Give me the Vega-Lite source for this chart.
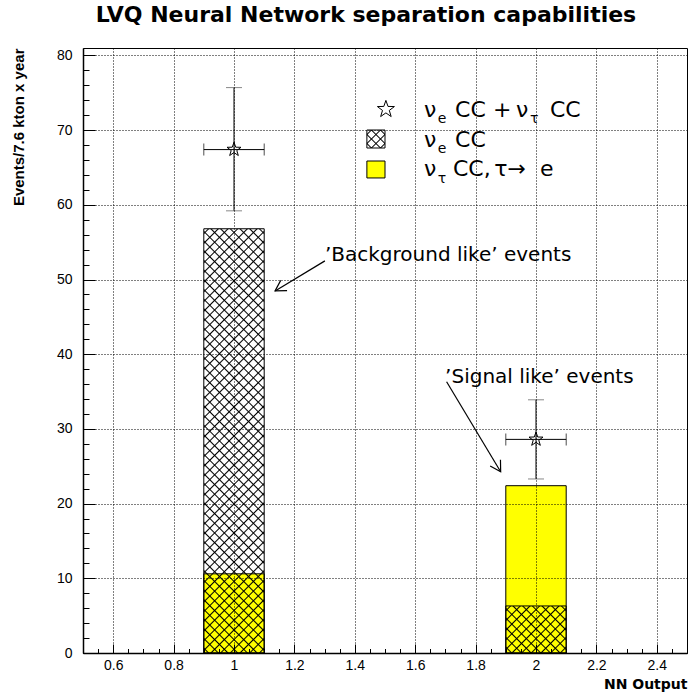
{
"$schema":"https://vega.github.io/schema/vega-lite/v6.json",
"width":604,"height":605,
"autosize":{"type":"none"},
"padding":{"left":83,"top":48,"right":1,"bottom":42},
"background":"white",
"title":{"text":"LVQ Neural Network separation capabilities","font":"DejaVu Sans","fontSize":22,"fontWeight":"bold","color":"#000","anchor":"middle","frame":"group","dx":-19,"offset":4,"baseline":"alphabetic"},
"datasets":{
"bars":[{"nn":1,"x0":0.9,"x1":1.1,"nue":56.8,"nutau":10.6},{"nn":2,"x0":1.9,"x1":2.1,"nue":6.3,"nutau":22.4}],
"points":[{"nn":1,"x0":0.9,"x1":1.1,"total":67.4,"lo":59.2,"hi":75.7},{"nn":2,"x0":1.9,"x1":2.1,"total":28.6,"lo":23.3,"hi":33.9}],
"notes":[{"text":"’Background like’ events","x":1.301,"y":52.5},{"text":"’Signal like’ events","x":1.699,"y":36.15}],
"arrows":[{"id":"bg","x":1.301,"y":52.5,"x2":1.136,"y2":48.47},{"id":"sig","x":1.704,"y":36.32,"x2":1.883,"y2":24.27}],
"legend_text":[{"t":"ν","x":1.629,"y":71.8},{"t":"CC","x":1.732,"y":71.8},{"t":"+","x":1.858,"y":71.8},{"t":"ν","x":1.934,"y":71.8},{"t":"CC","x":2.046,"y":71.8},{"t":"ν","x":1.629,"y":67.79},{"t":"CC","x":1.732,"y":67.79},{"t":"ν","x":1.629,"y":63.86},{"t":"CC,","x":1.725,"y":63.86},{"t":"τ→","x":1.862,"y":63.86},{"t":"e","x":2.013,"y":63.86}],
"legend_sub":[{"t":"e","x":1.675,"y":70.92},{"t":"τ","x":1.98,"y":70.92},{"t":"e","x":1.675,"y":66.9},{"t":"τ","x":1.675,"y":62.9}],
"legend_marker":[{"x":1.503,"y":72.79}],
"legend_boxes":[{"k":"nue","x0":1.44,"x1":1.5,"y0":67.61,"y1":70.02},{"k":"nutau","x0":1.44,"x1":1.5,"y0":63.6,"y1":65.87}]
},
"resolve":{"axis":{"x":"independent","y":"independent"}},
"layer":[
{"data":{"name":"bars"},"mark":{"type":"rect","fill":"#ffff00","stroke":"#000","strokeWidth":1},
"encoding":{
"x":{"field":"x0","type":"quantitative","scale":{"domain":[0.5,2.5],"nice":false,"zero":false},
"axis":{"orient":"bottom","values":[0.6,0.8,1,1.2,1.4,1.6,1.8,2,2.2,2.4],"format":"~g","grid":true,"gridDash":[1,2],"gridColor":"#000","gridWidth":1,"ticks":false,"domain":true,"domainWidth":1.5,"domainColor":"#000","labelFont":"Liberation Sans","labelFontSize":14,"labelColor":"#000","labelPadding":5,"labelFlush":false,"labelOverlap":false,"title":"NN Output","titleFont":"DejaVu Sans","titleFontSize":14,"titleFontWeight":"bold","titleColor":"#000","titleAnchor":"end","titlePadding":5,"zindex":1}},
"x2":{"field":"x1"},
"y":{"field":"nutau","type":"quantitative","scale":{"domain":[0,81],"nice":false,"zero":true},
"axis":{"orient":"left","values":[0,10,20,30,40,50,60,70,80],"format":"d","grid":true,"gridDash":[1,2],"gridColor":"#000","gridWidth":1,"ticks":false,"domain":true,"domainWidth":1.5,"domainColor":"#000","labelFont":"Liberation Sans","labelFontSize":14,"labelColor":"#000","labelPadding":11,"labelFlush":false,"labelOverlap":false,"title":"Events/7.6 kton x year","titleFont":"Liberation Sans","titleFontSize":15,"titleFontWeight":"bold","titleColor":"#000","titleAnchor":"end","titlePadding":30,"zindex":1}},
"y2":{"datum":0}}},
{"data":{"name":"bars"},"transform":[{"filter":"datum.nn==1"}],
"mark":{"type":"rect","stroke":"#000","strokeWidth":1,"fill":{"gradient":"linear","x1":0,"y1":0,"x2":0.1594,"y2":1.1197,"stops":[
{"offset":0.007,"color":"transparent"},{"offset":0.01,"color":"#000"},{"offset":0.013,"color":"transparent"},
{"offset":0.027,"color":"transparent"},{"offset":0.03,"color":"#000"},{"offset":0.033,"color":"transparent"},
{"offset":0.047,"color":"transparent"},{"offset":0.05,"color":"#000"},{"offset":0.053,"color":"transparent"},
{"offset":0.067,"color":"transparent"},{"offset":0.07,"color":"#000"},{"offset":0.073,"color":"transparent"},
{"offset":0.087,"color":"transparent"},{"offset":0.09,"color":"#000"},{"offset":0.093,"color":"transparent"},
{"offset":0.107,"color":"transparent"},{"offset":0.11,"color":"#000"},{"offset":0.113,"color":"transparent"},
{"offset":0.127,"color":"transparent"},{"offset":0.13,"color":"#000"},{"offset":0.133,"color":"transparent"},
{"offset":0.147,"color":"transparent"},{"offset":0.15,"color":"#000"},{"offset":0.153,"color":"transparent"},
{"offset":0.167,"color":"transparent"},{"offset":0.17,"color":"#000"},{"offset":0.173,"color":"transparent"},
{"offset":0.187,"color":"transparent"},{"offset":0.19,"color":"#000"},{"offset":0.193,"color":"transparent"},
{"offset":0.207,"color":"transparent"},{"offset":0.21,"color":"#000"},{"offset":0.213,"color":"transparent"},
{"offset":0.227,"color":"transparent"},{"offset":0.23,"color":"#000"},{"offset":0.233,"color":"transparent"},
{"offset":0.247,"color":"transparent"},{"offset":0.25,"color":"#000"},{"offset":0.253,"color":"transparent"},
{"offset":0.267,"color":"transparent"},{"offset":0.27,"color":"#000"},{"offset":0.273,"color":"transparent"},
{"offset":0.287,"color":"transparent"},{"offset":0.29,"color":"#000"},{"offset":0.293,"color":"transparent"},
{"offset":0.307,"color":"transparent"},{"offset":0.31,"color":"#000"},{"offset":0.313,"color":"transparent"},
{"offset":0.327,"color":"transparent"},{"offset":0.33,"color":"#000"},{"offset":0.333,"color":"transparent"},
{"offset":0.347,"color":"transparent"},{"offset":0.35,"color":"#000"},{"offset":0.353,"color":"transparent"},
{"offset":0.367,"color":"transparent"},{"offset":0.37,"color":"#000"},{"offset":0.373,"color":"transparent"},
{"offset":0.387,"color":"transparent"},{"offset":0.39,"color":"#000"},{"offset":0.393,"color":"transparent"},
{"offset":0.407,"color":"transparent"},{"offset":0.41,"color":"#000"},{"offset":0.413,"color":"transparent"},
{"offset":0.427,"color":"transparent"},{"offset":0.43,"color":"#000"},{"offset":0.433,"color":"transparent"},
{"offset":0.447,"color":"transparent"},{"offset":0.45,"color":"#000"},{"offset":0.453,"color":"transparent"},
{"offset":0.467,"color":"transparent"},{"offset":0.47,"color":"#000"},{"offset":0.473,"color":"transparent"},
{"offset":0.487,"color":"transparent"},{"offset":0.49,"color":"#000"},{"offset":0.493,"color":"transparent"},
{"offset":0.507,"color":"transparent"},{"offset":0.51,"color":"#000"},{"offset":0.513,"color":"transparent"},
{"offset":0.527,"color":"transparent"},{"offset":0.53,"color":"#000"},{"offset":0.533,"color":"transparent"},
{"offset":0.547,"color":"transparent"},{"offset":0.55,"color":"#000"},{"offset":0.553,"color":"transparent"},
{"offset":0.567,"color":"transparent"},{"offset":0.57,"color":"#000"},{"offset":0.573,"color":"transparent"},
{"offset":0.587,"color":"transparent"},{"offset":0.59,"color":"#000"},{"offset":0.593,"color":"transparent"},
{"offset":0.607,"color":"transparent"},{"offset":0.61,"color":"#000"},{"offset":0.613,"color":"transparent"},
{"offset":0.627,"color":"transparent"},{"offset":0.63,"color":"#000"},{"offset":0.633,"color":"transparent"},
{"offset":0.647,"color":"transparent"},{"offset":0.65,"color":"#000"},{"offset":0.653,"color":"transparent"},
{"offset":0.667,"color":"transparent"},{"offset":0.67,"color":"#000"},{"offset":0.673,"color":"transparent"},
{"offset":0.687,"color":"transparent"},{"offset":0.69,"color":"#000"},{"offset":0.693,"color":"transparent"},
{"offset":0.707,"color":"transparent"},{"offset":0.71,"color":"#000"},{"offset":0.713,"color":"transparent"},
{"offset":0.727,"color":"transparent"},{"offset":0.73,"color":"#000"},{"offset":0.733,"color":"transparent"},
{"offset":0.747,"color":"transparent"},{"offset":0.75,"color":"#000"},{"offset":0.753,"color":"transparent"},
{"offset":0.767,"color":"transparent"},{"offset":0.77,"color":"#000"},{"offset":0.773,"color":"transparent"},
{"offset":0.787,"color":"transparent"},{"offset":0.79,"color":"#000"},{"offset":0.793,"color":"transparent"},
{"offset":0.807,"color":"transparent"},{"offset":0.81,"color":"#000"},{"offset":0.813,"color":"transparent"},
{"offset":0.827,"color":"transparent"},{"offset":0.83,"color":"#000"},{"offset":0.833,"color":"transparent"},
{"offset":0.847,"color":"transparent"},{"offset":0.85,"color":"#000"},{"offset":0.853,"color":"transparent"},
{"offset":0.867,"color":"transparent"},{"offset":0.87,"color":"#000"},{"offset":0.873,"color":"transparent"},
{"offset":0.887,"color":"transparent"},{"offset":0.89,"color":"#000"},{"offset":0.893,"color":"transparent"},
{"offset":0.907,"color":"transparent"},{"offset":0.91,"color":"#000"},{"offset":0.913,"color":"transparent"},
{"offset":0.927,"color":"transparent"},{"offset":0.93,"color":"#000"},{"offset":0.933,"color":"transparent"},
{"offset":0.947,"color":"transparent"},{"offset":0.95,"color":"#000"},{"offset":0.953,"color":"transparent"},
{"offset":0.967,"color":"transparent"},{"offset":0.97,"color":"#000"},{"offset":0.973,"color":"transparent"},
{"offset":0.987,"color":"transparent"},{"offset":0.99,"color":"#000"},{"offset":0.993,"color":"transparent"}]}},
"encoding":{
"x":{"field":"x0","type":"quantitative","axis":{"orient":"bottom","values":[0.6,0.8,1,1.2,1.4,1.6,1.8,2,2.2,2.4],"labels":false,"domain":false,"grid":false,"ticks":true,"tickSize":-9,"tickColor":"#000","tickWidth":1,"title":null,"zindex":1}},
"x2":{"field":"x1"},
"y":{"field":"nue","type":"quantitative","axis":{"orient":"left","values":[0,10,20,30,40,50,60,70,80],"labels":false,"domain":false,"grid":false,"ticks":true,"tickSize":-12,"tickColor":"#000","tickWidth":1,"title":null,"zindex":1}},
"y2":{"datum":0}}},
{"data":{"name":"bars"},"transform":[{"filter":"datum.nn==1"}],
"mark":{"type":"rect","strokeWidth":0,"fill":{"gradient":"linear","x1":1,"y1":0,"x2":0.8406,"y2":1.1197,"stops":[
{"offset":0.007,"color":"transparent"},{"offset":0.01,"color":"#000"},{"offset":0.013,"color":"transparent"},
{"offset":0.027,"color":"transparent"},{"offset":0.03,"color":"#000"},{"offset":0.033,"color":"transparent"},
{"offset":0.047,"color":"transparent"},{"offset":0.05,"color":"#000"},{"offset":0.053,"color":"transparent"},
{"offset":0.067,"color":"transparent"},{"offset":0.07,"color":"#000"},{"offset":0.073,"color":"transparent"},
{"offset":0.087,"color":"transparent"},{"offset":0.09,"color":"#000"},{"offset":0.093,"color":"transparent"},
{"offset":0.107,"color":"transparent"},{"offset":0.11,"color":"#000"},{"offset":0.113,"color":"transparent"},
{"offset":0.127,"color":"transparent"},{"offset":0.13,"color":"#000"},{"offset":0.133,"color":"transparent"},
{"offset":0.147,"color":"transparent"},{"offset":0.15,"color":"#000"},{"offset":0.153,"color":"transparent"},
{"offset":0.167,"color":"transparent"},{"offset":0.17,"color":"#000"},{"offset":0.173,"color":"transparent"},
{"offset":0.187,"color":"transparent"},{"offset":0.19,"color":"#000"},{"offset":0.193,"color":"transparent"},
{"offset":0.207,"color":"transparent"},{"offset":0.21,"color":"#000"},{"offset":0.213,"color":"transparent"},
{"offset":0.227,"color":"transparent"},{"offset":0.23,"color":"#000"},{"offset":0.233,"color":"transparent"},
{"offset":0.247,"color":"transparent"},{"offset":0.25,"color":"#000"},{"offset":0.253,"color":"transparent"},
{"offset":0.267,"color":"transparent"},{"offset":0.27,"color":"#000"},{"offset":0.273,"color":"transparent"},
{"offset":0.287,"color":"transparent"},{"offset":0.29,"color":"#000"},{"offset":0.293,"color":"transparent"},
{"offset":0.307,"color":"transparent"},{"offset":0.31,"color":"#000"},{"offset":0.313,"color":"transparent"},
{"offset":0.327,"color":"transparent"},{"offset":0.33,"color":"#000"},{"offset":0.333,"color":"transparent"},
{"offset":0.347,"color":"transparent"},{"offset":0.35,"color":"#000"},{"offset":0.353,"color":"transparent"},
{"offset":0.367,"color":"transparent"},{"offset":0.37,"color":"#000"},{"offset":0.373,"color":"transparent"},
{"offset":0.387,"color":"transparent"},{"offset":0.39,"color":"#000"},{"offset":0.393,"color":"transparent"},
{"offset":0.407,"color":"transparent"},{"offset":0.41,"color":"#000"},{"offset":0.413,"color":"transparent"},
{"offset":0.427,"color":"transparent"},{"offset":0.43,"color":"#000"},{"offset":0.433,"color":"transparent"},
{"offset":0.447,"color":"transparent"},{"offset":0.45,"color":"#000"},{"offset":0.453,"color":"transparent"},
{"offset":0.467,"color":"transparent"},{"offset":0.47,"color":"#000"},{"offset":0.473,"color":"transparent"},
{"offset":0.487,"color":"transparent"},{"offset":0.49,"color":"#000"},{"offset":0.493,"color":"transparent"},
{"offset":0.507,"color":"transparent"},{"offset":0.51,"color":"#000"},{"offset":0.513,"color":"transparent"},
{"offset":0.527,"color":"transparent"},{"offset":0.53,"color":"#000"},{"offset":0.533,"color":"transparent"},
{"offset":0.547,"color":"transparent"},{"offset":0.55,"color":"#000"},{"offset":0.553,"color":"transparent"},
{"offset":0.567,"color":"transparent"},{"offset":0.57,"color":"#000"},{"offset":0.573,"color":"transparent"},
{"offset":0.587,"color":"transparent"},{"offset":0.59,"color":"#000"},{"offset":0.593,"color":"transparent"},
{"offset":0.607,"color":"transparent"},{"offset":0.61,"color":"#000"},{"offset":0.613,"color":"transparent"},
{"offset":0.627,"color":"transparent"},{"offset":0.63,"color":"#000"},{"offset":0.633,"color":"transparent"},
{"offset":0.647,"color":"transparent"},{"offset":0.65,"color":"#000"},{"offset":0.653,"color":"transparent"},
{"offset":0.667,"color":"transparent"},{"offset":0.67,"color":"#000"},{"offset":0.673,"color":"transparent"},
{"offset":0.687,"color":"transparent"},{"offset":0.69,"color":"#000"},{"offset":0.693,"color":"transparent"},
{"offset":0.707,"color":"transparent"},{"offset":0.71,"color":"#000"},{"offset":0.713,"color":"transparent"},
{"offset":0.727,"color":"transparent"},{"offset":0.73,"color":"#000"},{"offset":0.733,"color":"transparent"},
{"offset":0.747,"color":"transparent"},{"offset":0.75,"color":"#000"},{"offset":0.753,"color":"transparent"},
{"offset":0.767,"color":"transparent"},{"offset":0.77,"color":"#000"},{"offset":0.773,"color":"transparent"},
{"offset":0.787,"color":"transparent"},{"offset":0.79,"color":"#000"},{"offset":0.793,"color":"transparent"},
{"offset":0.807,"color":"transparent"},{"offset":0.81,"color":"#000"},{"offset":0.813,"color":"transparent"},
{"offset":0.827,"color":"transparent"},{"offset":0.83,"color":"#000"},{"offset":0.833,"color":"transparent"},
{"offset":0.847,"color":"transparent"},{"offset":0.85,"color":"#000"},{"offset":0.853,"color":"transparent"},
{"offset":0.867,"color":"transparent"},{"offset":0.87,"color":"#000"},{"offset":0.873,"color":"transparent"},
{"offset":0.887,"color":"transparent"},{"offset":0.89,"color":"#000"},{"offset":0.893,"color":"transparent"},
{"offset":0.907,"color":"transparent"},{"offset":0.91,"color":"#000"},{"offset":0.913,"color":"transparent"},
{"offset":0.927,"color":"transparent"},{"offset":0.93,"color":"#000"},{"offset":0.933,"color":"transparent"},
{"offset":0.947,"color":"transparent"},{"offset":0.95,"color":"#000"},{"offset":0.953,"color":"transparent"},
{"offset":0.967,"color":"transparent"},{"offset":0.97,"color":"#000"},{"offset":0.973,"color":"transparent"},
{"offset":0.987,"color":"transparent"},{"offset":0.99,"color":"#000"},{"offset":0.993,"color":"transparent"}]}},
"encoding":{
"x":{"field":"x0","type":"quantitative","axis":{"orient":"bottom","values":[0.5,0.55,0.6,0.65,0.7,0.75,0.8,0.85,0.9,0.95,1,1.05,1.1,1.15,1.2,1.25,1.3,1.35,1.4,1.45,1.5,1.55,1.6,1.65,1.7,1.75,1.8,1.85,1.9,1.95,2,2.05,2.1,2.15,2.2,2.25,2.3,2.35,2.4,2.45,2.5],"labels":false,"domain":false,"grid":false,"ticks":true,"tickSize":-4.5,"tickColor":"#000","tickWidth":1,"title":null,"zindex":1}},
"x2":{"field":"x1"},
"y":{"field":"nue","type":"quantitative","axis":{"orient":"left","values":[0,2,4,6,8,10,12,14,16,18,20,22,24,26,28,30,32,34,36,38,40,42,44,46,48,50,52,54,56,58,60,62,64,66,68,70,72,74,76,78,80],"labels":false,"domain":false,"grid":false,"ticks":true,"tickSize":-6,"tickColor":"#000","tickWidth":1,"title":null,"zindex":1}},
"y2":{"datum":0}}},
{"data":{"name":"bars"},"transform":[{"filter":"datum.nn==2"}],
"mark":{"type":"rect","stroke":"#000","strokeWidth":1,"fill":{"gradient":"linear","x1":0,"y1":0,"x2":1.107,"y2":0.8626,"stops":[
{"offset":0.0315,"color":"transparent"},{"offset":0.045,"color":"#000"},{"offset":0.0585,"color":"transparent"},
{"offset":0.1215,"color":"transparent"},{"offset":0.135,"color":"#000"},{"offset":0.1485,"color":"transparent"},
{"offset":0.2115,"color":"transparent"},{"offset":0.225,"color":"#000"},{"offset":0.2385,"color":"transparent"},
{"offset":0.3015,"color":"transparent"},{"offset":0.315,"color":"#000"},{"offset":0.3285,"color":"transparent"},
{"offset":0.3915,"color":"transparent"},{"offset":0.405,"color":"#000"},{"offset":0.4185,"color":"transparent"},
{"offset":0.4815,"color":"transparent"},{"offset":0.495,"color":"#000"},{"offset":0.5085,"color":"transparent"},
{"offset":0.5715,"color":"transparent"},{"offset":0.585,"color":"#000"},{"offset":0.5985,"color":"transparent"},
{"offset":0.6615,"color":"transparent"},{"offset":0.675,"color":"#000"},{"offset":0.6885,"color":"transparent"},
{"offset":0.7515,"color":"transparent"},{"offset":0.765,"color":"#000"},{"offset":0.7785,"color":"transparent"},
{"offset":0.8415,"color":"transparent"},{"offset":0.855,"color":"#000"},{"offset":0.8685,"color":"transparent"},
{"offset":0.9315,"color":"transparent"},{"offset":0.945,"color":"#000"},{"offset":0.9585,"color":"transparent"}]}},
"encoding":{"x":{"field":"x0","type":"quantitative","axis":null},"x2":{"field":"x1"},"y":{"field":"nue","type":"quantitative","axis":null},"y2":{"datum":0}}},
{"data":{"name":"bars"},"transform":[{"filter":"datum.nn==2"}],
"mark":{"type":"rect","strokeWidth":0,"fill":{"gradient":"linear","x1":1,"y1":0,"x2":-0.107,"y2":0.8626,"stops":[
{"offset":0.0315,"color":"transparent"},{"offset":0.045,"color":"#000"},{"offset":0.0585,"color":"transparent"},
{"offset":0.1215,"color":"transparent"},{"offset":0.135,"color":"#000"},{"offset":0.1485,"color":"transparent"},
{"offset":0.2115,"color":"transparent"},{"offset":0.225,"color":"#000"},{"offset":0.2385,"color":"transparent"},
{"offset":0.3015,"color":"transparent"},{"offset":0.315,"color":"#000"},{"offset":0.3285,"color":"transparent"},
{"offset":0.3915,"color":"transparent"},{"offset":0.405,"color":"#000"},{"offset":0.4185,"color":"transparent"},
{"offset":0.4815,"color":"transparent"},{"offset":0.495,"color":"#000"},{"offset":0.5085,"color":"transparent"},
{"offset":0.5715,"color":"transparent"},{"offset":0.585,"color":"#000"},{"offset":0.5985,"color":"transparent"},
{"offset":0.6615,"color":"transparent"},{"offset":0.675,"color":"#000"},{"offset":0.6885,"color":"transparent"},
{"offset":0.7515,"color":"transparent"},{"offset":0.765,"color":"#000"},{"offset":0.7785,"color":"transparent"},
{"offset":0.8415,"color":"transparent"},{"offset":0.855,"color":"#000"},{"offset":0.8685,"color":"transparent"},
{"offset":0.9315,"color":"transparent"},{"offset":0.945,"color":"#000"},{"offset":0.9585,"color":"transparent"}]}},
"encoding":{"x":{"field":"x0","type":"quantitative","axis":null},"x2":{"field":"x1"},"y":{"field":"nue","type":"quantitative","axis":null},"y2":{"datum":0}}},
{"data":{"name":"points"},"mark":{"type":"rule","color":"#000","strokeWidth":1},
"encoding":{"x":{"field":"nn","type":"quantitative","axis":null},"y":{"field":"lo","type":"quantitative","axis":null},"y2":{"field":"hi"}}},
{"data":{"name":"points"},"mark":{"type":"rule","color":"#000","strokeWidth":1},
"encoding":{"x":{"field":"x0","type":"quantitative","axis":null},"x2":{"field":"x1"},"y":{"field":"total","type":"quantitative","axis":null}}},
{"data":{"name":"points"},"transform":[{"fold":["lo","hi"],"as":["end","val"]}],
"mark":{"type":"tick","orient":"horizontal","size":16,"thickness":1,"color":"#555"},
"encoding":{"x":{"field":"nn","type":"quantitative","axis":null},"y":{"field":"val","type":"quantitative","axis":null}}},
{"data":{"name":"points"},"transform":[{"fold":["x0","x1"],"as":["end","xv"]}],
"mark":{"type":"tick","orient":"vertical","size":12,"thickness":1,"color":"#000"},
"encoding":{"x":{"field":"xv","type":"quantitative","axis":null},"y":{"field":"total","type":"quantitative","axis":null}}},
{"data":{"name":"points"},"mark":{"type":"point","shape":"M0,-1L0.235,-0.324L0.951,-0.309L0.38,0.124L0.588,0.809L0,0.4L-0.588,0.809L-0.38,0.124L-0.951,-0.309L-0.235,-0.324Z","size":216,"filled":false,"stroke":"#000","strokeWidth":1,"opacity":1},
"encoding":{"x":{"field":"nn","type":"quantitative","axis":null},"y":{"field":"total","type":"quantitative","axis":null}}},
{"data":{"name":"arrows"},"mark":{"type":"rule","color":"#000","strokeWidth":1.2},
"encoding":{"x":{"field":"x","type":"quantitative","axis":null},"y":{"field":"y","type":"quantitative","axis":null},"x2":{"field":"x2"},"y2":{"field":"y2"}}},
{"data":{"name":"arrows"},"transform":[{"filter":"datum.id=='bg'"}],"mark":{"type":"point","shape":"M-1,1.732L0,0L1,1.732","size":144,"angle":238,"filled":false,"stroke":"#000","strokeWidth":1.2,"opacity":1},
"encoding":{"x":{"field":"x2","type":"quantitative","axis":null},"y":{"field":"y2","type":"quantitative","axis":null}}},
{"data":{"name":"arrows"},"transform":[{"filter":"datum.id=='sig'"}],"mark":{"type":"point","shape":"M-1,1.732L0,0L1,1.732","size":144,"angle":149,"filled":false,"stroke":"#000","strokeWidth":1.2,"opacity":1},
"encoding":{"x":{"field":"x2","type":"quantitative","axis":null},"y":{"field":"y2","type":"quantitative","axis":null}}},
{"data":{"name":"notes"},"mark":{"type":"text","font":"DejaVu Sans","fontSize":20,"align":"left","baseline":"alphabetic","color":"#000"},
"encoding":{"x":{"field":"x","type":"quantitative","axis":null},"y":{"field":"y","type":"quantitative","axis":null},"text":{"field":"text"}}},
{"data":{"name":"legend_text"},"mark":{"type":"text","font":"DejaVu Sans","fontSize":22,"align":"left","baseline":"alphabetic","color":"#000"},
"encoding":{"x":{"field":"x","type":"quantitative","axis":null},"y":{"field":"y","type":"quantitative","axis":null},"text":{"field":"t"}}},
{"data":{"name":"legend_sub"},"mark":{"type":"text","font":"DejaVu Sans","fontSize":14,"align":"left","baseline":"alphabetic","color":"#000"},
"encoding":{"x":{"field":"x","type":"quantitative","axis":null},"y":{"field":"y","type":"quantitative","axis":null},"text":{"field":"t"}}},
{"data":{"name":"legend_marker"},"mark":{"type":"point","shape":"M0,-1L0.235,-0.324L0.951,-0.309L0.38,0.124L0.588,0.809L0,0.4L-0.588,0.809L-0.38,0.124L-0.951,-0.309L-0.235,-0.324Z","size":320,"filled":false,"stroke":"#000","strokeWidth":1,"opacity":1},
"encoding":{"x":{"field":"x","type":"quantitative","axis":null},"y":{"field":"y","type":"quantitative","axis":null}}},
{"data":{"name":"legend_boxes"},"transform":[{"filter":"datum.k=='nutau'"}],"mark":{"type":"rect","fill":"#ffff00","stroke":"#000","strokeWidth":1},
"encoding":{"x":{"field":"x0","type":"quantitative","axis":null},"x2":{"field":"x1"},"y":{"field":"y0","type":"quantitative","axis":null},"y2":{"field":"y1"}}},
{"data":{"name":"legend_boxes"},"transform":[{"filter":"datum.k=='nue'"}],"mark":{"type":"rect","stroke":"#000","strokeWidth":1,"fill":{"gradient":"linear","x1":0,"y1":0,"x2":1,"y2":1,"stops":[
{"offset":0.085,"color":"transparent"},{"offset":0.125,"color":"#000"},{"offset":0.165,"color":"transparent"},
{"offset":0.335,"color":"transparent"},{"offset":0.375,"color":"#000"},{"offset":0.415,"color":"transparent"},
{"offset":0.585,"color":"transparent"},{"offset":0.625,"color":"#000"},{"offset":0.665,"color":"transparent"},
{"offset":0.835,"color":"transparent"},{"offset":0.875,"color":"#000"},{"offset":0.915,"color":"transparent"}]}},
"encoding":{"x":{"field":"x0","type":"quantitative","axis":null},"x2":{"field":"x1"},"y":{"field":"y0","type":"quantitative","axis":null},"y2":{"field":"y1"}}},
{"data":{"name":"legend_boxes"},"transform":[{"filter":"datum.k=='nue'"}],"mark":{"type":"rect","strokeWidth":0,"fill":{"gradient":"linear","x1":1,"y1":0,"x2":0,"y2":1,"stops":[
{"offset":0.085,"color":"transparent"},{"offset":0.125,"color":"#000"},{"offset":0.165,"color":"transparent"},
{"offset":0.335,"color":"transparent"},{"offset":0.375,"color":"#000"},{"offset":0.415,"color":"transparent"},
{"offset":0.585,"color":"transparent"},{"offset":0.625,"color":"#000"},{"offset":0.665,"color":"transparent"},
{"offset":0.835,"color":"transparent"},{"offset":0.875,"color":"#000"},{"offset":0.915,"color":"transparent"}]}},
"encoding":{"x":{"field":"x0","type":"quantitative","axis":null},"x2":{"field":"x1"},"y":{"field":"y0","type":"quantitative","axis":null},"y2":{"field":"y1"}}}
],
"config":{"view":{"stroke":"#000","strokeWidth":1},"font":"DejaVu Sans"}
}
